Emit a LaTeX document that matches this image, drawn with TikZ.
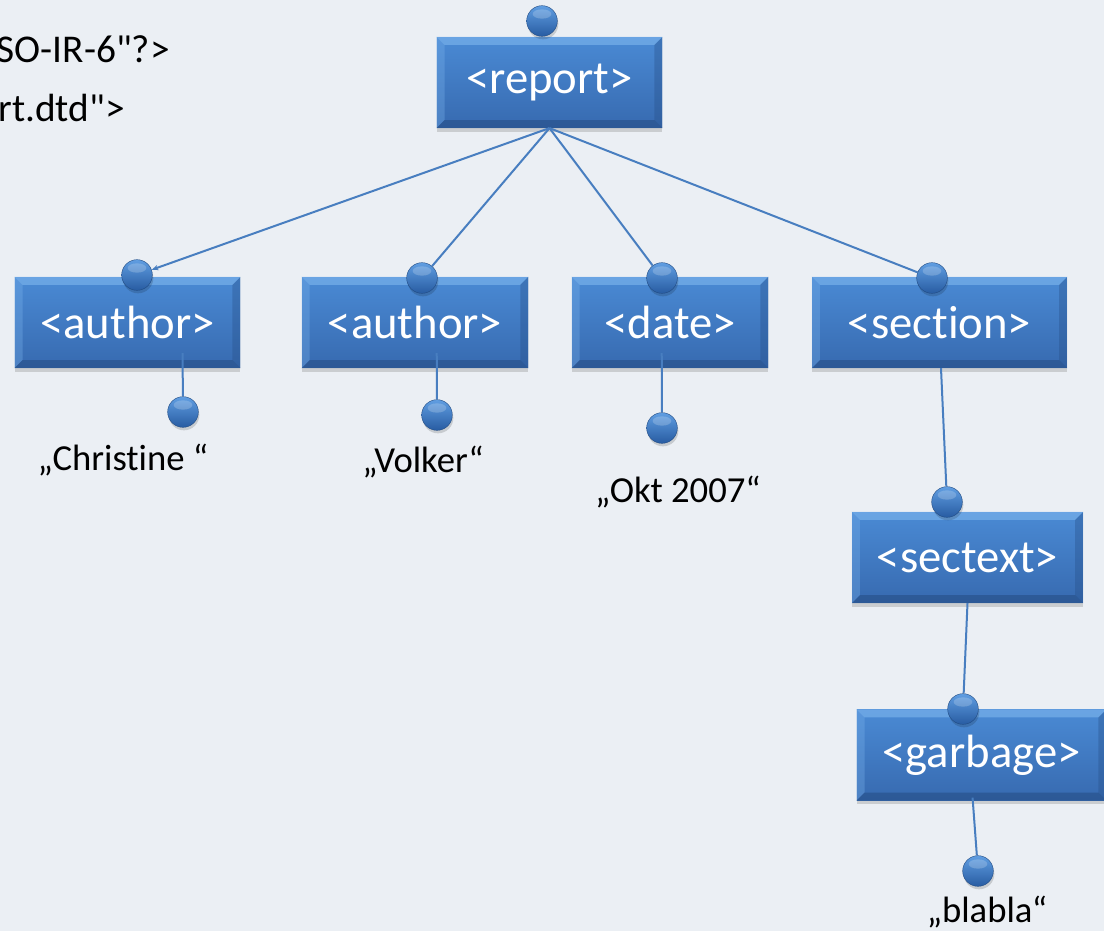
\documentclass[tikz,border=0pt]{standalone}
\usepackage{fontspec}
\setmainfont{Carlito}[Ligatures={TeXOff,NoCommon}]
\usepackage{tikz}
\usetikzlibrary{arrows.meta,calc,shadows}

\definecolor{bgcol}{RGB}{235,239,244}
\definecolor{tagtop}{RGB}{74,138,212}
\definecolor{tagbot}{RGB}{55,106,176}
\definecolor{bevlight}{RGB}{120,176,234}
\definecolor{bevdark}{RGB}{38,78,134}
\definecolor{linkcol}{RGB}{72,126,192}
\definecolor{knobtop}{RGB}{96,158,226}
\definecolor{knobbot}{RGB}{40,92,162}

\tikzset{
  tagbox/.style={inner sep=0pt, minimum height=68pt, top color=tagtop, bottom color=tagbot,
    text=white, font=\fontsize{35}{40}\selectfont,
    drop shadow={opacity=0.3,shadow xshift=0pt,shadow yshift=-3pt}},
  knob/.style={circle, inner sep=0pt, minimum size=23pt},
  knobfill/.style={top color=knobtop, bottom color=knobbot, draw=knobbot!80!black, line width=0.3pt},
  link/.style={draw=linkcol, line width=1.5pt},
  leaf/.style={inner sep=0pt, anchor=base, font=\fontsize{27.5}{32}\selectfont},
  header/.style={inner sep=0pt, anchor=base east, font=\fontsize{29.5}{34}\selectfont}
}

% bevelled rim round a tag box
\newcommand{\tagrim}[1]{%
  \fill[bevlight,opacity=0.7] (#1.north west) -- (#1.north east) -- ($(#1.north east)+(-8,8)$) -- ($(#1.north west)+(8,8)$) -- cycle;
  \fill[bevlight,opacity=0.35] (#1.north west) -- ($(#1.north west)+(8,8)$) -- ($(#1.south west)+(8,-8)$) -- (#1.south west) -- cycle;
  \fill[bevdark,opacity=0.35] (#1.north east) -- ($(#1.north east)+(-8,8)$) -- ($(#1.south east)+(-8,-8)$) -- (#1.south east) -- cycle;
  \fill[bevdark,opacity=0.6] (#1.south west) -- ($(#1.south west)+(8,-8)$) -- ($(#1.south east)+(-8,-8)$) -- (#1.south east) -- cycle;
}

\begin{document}
\begin{tikzpicture}[x=0.75pt,y=0.75pt,yscale=-1,xscale=1]
\path[use as bounding box, fill=bgcol] (0,0) rectangle (1104,931);
\clip (0,0) rectangle (1104,931);

% header lines, cut at the left margin
\node[header] (xmldecl) at (170,63) {SO-IR-6"?>};
\node[header] (doctype) at (125,122) {rt.dtd">};

% tag boxes
\node[tagbox, minimum width=169pt] (rep) at (549.5,82.5) {<report>};
\node[tagbox, minimum width=169pt] (aut1) at (127.5,322.5) {<author>};
\node[tagbox, minimum width=169.5pt] (aut2) at (415,322.5) {<author>};
\node[tagbox, minimum width=147pt] (dat) at (670,322.5) {<date>};
\node[tagbox, minimum width=191pt] (sec) at (939.5,322.5) {<section>};
\node[tagbox, minimum width=173pt] (stx) at (967.5,557.5) {<sectext>};
\node[tagbox, minimum width=187pt] (gbg) at (981.5,755) {<garbage>};
\tagrim{rep} \tagrim{aut1} \tagrim{aut2} \tagrim{dat}
\tagrim{sec} \tagrim{stx} \tagrim{gbg}

% knobs on top of the boxes
\node[knob] (krep) at (542,21) {};
\node[knob] (kaut1) at (137,275) {};
\node[knob] (kaut2) at (422,278) {};
\node[knob] (kdat) at (662,278) {};
\node[knob] (ksec) at (932,278) {};
\node[knob] (kstx) at (947,502) {};
\node[knob] (kgbg) at (963,709) {};

% text knobs
\node[knob] (lchr) at (183,412) {};
\node[knob] (lvol) at (437,415) {};
\node[knob] (lokt) at (662,428) {};
\node[knob] (lbla) at (978,871) {};

% links
\draw[link, -{Stealth[length=5pt,width=4pt]}] (rep.south) -- (kaut1);
\draw[link] (rep.south) -- (kaut2);
\draw[link] (rep.south) -- (kdat);
\draw[link] (rep.south) -- (ksec);
\draw[link] ($(sec.south)+(1.5,0)$) -- (kstx);
\draw[link] (stx.south) -- (kgbg);
\draw[link] ($(aut1.south west)+(168,-15)$) -- (lchr);
\draw[link] ($(aut2.south west)+(135,-15)$) -- (lvol);
\draw[link] ($(dat.south west)+(90,-15)$) -- (lokt);
\draw[link] ($(gbg.south west)+(116,-3)$) -- (lbla);

% knobs painted over the link ends
\foreach \k in {krep,kaut1,kaut2,kdat,ksec,kstx,kgbg,lchr,lvol,lokt,lbla}{
  \fill[black,opacity=0.15] ($(\k)+(1,3)$) circle[radius=11.5pt];
  \path[knobfill] (\k) circle[radius=11.5pt];
  \fill[white,opacity=0.2] ($(\k)+(0,-7)$) ellipse[x radius=7pt, y radius=3.5pt];
}

% text values
\node[leaf] (tchr) at (123,470) {„Christine “};
\node[leaf] (tvol) at (423,472) {„Volker“};
\node[leaf] (tokt) at (678,502) {„Okt 2007“};
\node[leaf] (tbla) at (987,922) {„blabla“};
\end{tikzpicture}
\end{document}
